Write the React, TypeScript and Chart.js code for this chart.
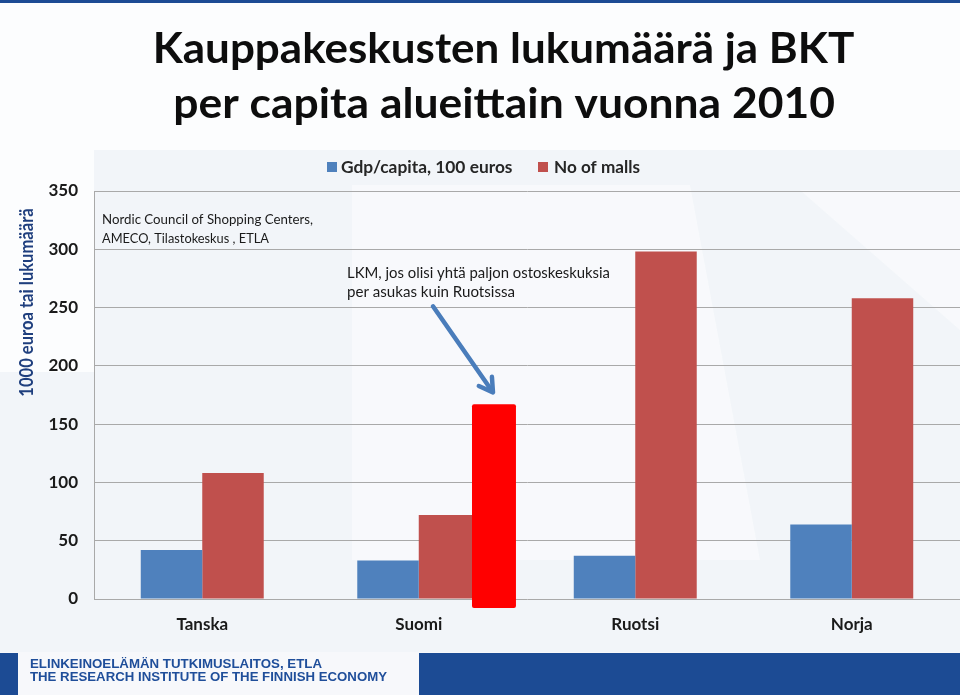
import React, { useEffect, useRef } from "react";
import { Chart, registerables } from "chart.js";

Chart.register(...registerables);

// ---- data ----
const countries = ["Tanska", "Suomi", "Ruotsi", "Norja"];
const gdpPerCapita100Euros = [42, 33, 37, 64];
const numberOfMalls = [108, 72, 298, 258];
const suomiMallsIfLikeRuotsi = 167;
const seriesLabels = ["Gdp/capita, 100 euros", "No of malls"];
const yMin = 0;
const yMax = 350;
const yStep = 50;

// ---- texts ----
const titleLines = ["Kauppakeskusten lukumäärä ja BKT", "per capita alueittain vuonna 2010"];
const yAxisTitle = "1000 euroa tai lukumäärä";
const sourceLines = ["Nordic Council of Shopping Centers,", "AMECO, Tilastokeskus , ETLA"];
const annotationLines = ["LKM, jos olisi yhtä paljon ostoskeskuksia", "per asukas kuin Ruotsissa"];
const footerLines = ["ELINKEINOELÄMÄN TUTKIMUSLAITOS, ETLA", "THE RESEARCH INSTITUTE OF THE FINNISH ECONOMY"];

// ---- styles ----
const BLUE = "#4f81bd";
const RED = "#c0504d";
const BRIGHT_RED = "#ff0000";
const NAVY = "#1c4b94";
const TEXT = "#1a1a1a";
const GRID = "#a9a9a9";

function fitText(
  ctx: CanvasRenderingContext2D,
  text: string,
  x: number,
  y: number,
  width: number,
  font: string,
  color: string
) {
  ctx.save();
  ctx.font = font;
  ctx.fillStyle = color;
  ctx.textAlign = "left";
  ctx.textBaseline = "alphabetic";
  const w = ctx.measureText(text).width || 1;
  ctx.translate(x, y);
  ctx.scale(width / w, 1);
  ctx.fillText(text, 0, 0);
  ctx.restore();
}

const backgroundPlugin = {
  id: "bgDecor",
  beforeDraw(chart: any) {
    const { ctx, width, height } = chart;
    ctx.save();
    ctx.fillStyle = "#f2f5f9";
    ctx.fillRect(0, 0, width, height);
    ctx.fillStyle = "rgba(255,255,255,0.75)";
    // top band
    ctx.fillRect(0, 0, width, 150);
    // left white area
    ctx.fillRect(0, 150, 94, 222);
    // subtle diagonal light panels
    ctx.fillStyle = "rgba(255,255,255,0.45)";
    ctx.beginPath();
    ctx.moveTo(352, 185);
    ctx.lineTo(690, 185);
    ctx.lineTo(760, 560);
    ctx.lineTo(352, 560);
    ctx.closePath();
    ctx.fill();
    ctx.beginPath();
    ctx.moveTo(800, 190);
    ctx.lineTo(960, 190);
    ctx.lineTo(960, 330);
    ctx.closePath();
    ctx.fill();
    // top navy strip
    ctx.fillStyle = NAVY;
    ctx.fillRect(0, 0, width, 3);
    // footer
    ctx.fillStyle = "#f7f8fb";
    ctx.fillRect(0, 652, width, height - 652);
    ctx.fillStyle = NAVY;
    ctx.fillRect(0, 653, 18, height - 653);
    ctx.fillRect(419, 653, width - 419, height - 653);
    ctx.restore();
  },
};

const overlayPlugin = {
  id: "overlay",
  afterDatasetsDraw(chart: any) {
    const { ctx } = chart;
    const yScale = chart.scales.y;
    const meta = chart.getDatasetMeta(1);
    const el = meta.data[1];
    const { x, width } = el.getProps(["x", "width"], true);
    const w = width * 0.715;
    const left = x + width * 0.366;
    const top = yScale.getPixelForValue(suomiMallsIfLikeRuotsi);
    const bottom = yScale.getPixelForValue(0) + 9;
    const r = 2;
    ctx.save();
    ctx.fillStyle = BRIGHT_RED;
    ctx.beginPath();
    ctx.moveTo(left + r, top);
    ctx.lineTo(left + w - r, top);
    ctx.quadraticCurveTo(left + w, top, left + w, top + r);
    ctx.lineTo(left + w, bottom - r);
    ctx.quadraticCurveTo(left + w, bottom, left + w - r, bottom);
    ctx.lineTo(left + r, bottom);
    ctx.quadraticCurveTo(left, bottom, left, bottom - r);
    ctx.lineTo(left, top + r);
    ctx.quadraticCurveTo(left, top, left + r, top);
    ctx.closePath();
    ctx.fill();

    // arrow
    const tipX = left + w / 2 - 1;
    const tipY = top - 12;
    const sx = tipX - 60;
    const sy = tipY - 86;
    ctx.strokeStyle = "#4a7dbb";
    ctx.lineWidth = 4.5;
    ctx.lineCap = "round";
    ctx.lineJoin = "round";
    ctx.beginPath();
    ctx.moveTo(sx, sy);
    ctx.lineTo(tipX - 1.5, tipY - 2);
    ctx.stroke();
    const ang = Math.atan2(sy - tipY, sx - tipX);
    const spread = (31 * Math.PI) / 180;
    const len = 15.5;
    ctx.beginPath();
    ctx.moveTo(tipX + len * Math.cos(ang - spread), tipY + len * Math.sin(ang - spread));
    ctx.lineTo(tipX, tipY);
    ctx.lineTo(tipX + len * Math.cos(ang + spread), tipY + len * Math.sin(ang + spread));
    ctx.stroke();
    ctx.restore();

    // text boxes
    const srcFont = "14px Lato";
    fitText(ctx, sourceLines[0], 102, 223.5, 211, srcFont, TEXT);
    fitText(ctx, sourceLines[1], 102, 242.5, 167, srcFont, TEXT);
    const annFont = "15px Lato";
    fitText(ctx, annotationLines[0], 347, 277.5, 263, annFont, TEXT);
    fitText(ctx, annotationLines[1], 347, 297, 168, annFont, TEXT);
  },
  afterDraw(chart: any) {
    const { ctx } = chart;
    // title
    const tFont = "bold 42px Lato";
    fitText(ctx, titleLines[0], 152.7, 62.5, 701.6, tFont, "#0d0d0d");
    fitText(ctx, titleLines[1], 173.3, 118.3, 661.7, tFont, "#0d0d0d");

    // y axis title (rotated)
    ctx.save();
    ctx.translate(32.5, 302.5);
    ctx.rotate(-Math.PI / 2);
    fitText(ctx, yAxisTitle, -94.2, 0, 188.4, "bold 18px Lato", "#1f3f7e");
    ctx.restore();

    // legend
    const legendBoxes = [327, 538];
    const legendTextX = [341, 554];
    const legendTextW = [171.5, 86];
    chart.data.datasets.forEach((ds: any, i: number) => {
      ctx.save();
      ctx.fillStyle = ds.backgroundColor;
      ctx.fillRect(legendBoxes[i], 162, 10, 10);
      ctx.restore();
      fitText(ctx, ds.label, legendTextX[i], 173, legendTextW[i], "bold 17px Lato", "#262626");
    });

    // footer texts
    const fFont = "bold 12px 'Liberation Sans', Arial, sans-serif";
    fitText(ctx, footerLines[0], 30, 667.7, 292, fFont, "#1f4e9a");
    fitText(ctx, footerLines[1], 30, 680.5, 357, fFont, "#1f4e9a");
  },
};

export default function App() {
  const ref = useRef<HTMLCanvasElement | null>(null);

  useEffect(() => {
    document.body.style.margin = "0";
    const canvas = ref.current;
    if (!canvas) return;
    const chart = new Chart(canvas, {
      type: "bar",
      data: {
        labels: countries,
        datasets: [
          {
            label: seriesLabels[0],
            data: gdpPerCapita100Euros,
            backgroundColor: BLUE,
            borderWidth: 0,
          },
          {
            label: seriesLabels[1],
            data: numberOfMalls,
            backgroundColor: RED,
            borderWidth: 0,
          },
        ],
      },
      options: {
        responsive: false,
        animation: false,
        devicePixelRatio: 1,
        layout: { padding: { top: 191, left: 0, right: 0, bottom: 0 } },
        datasets: {
          bar: { categoryPercentage: 0.568, barPercentage: 1 },
        },
        plugins: {
          legend: { display: false },
          title: { display: false },
          tooltip: { enabled: false },
        },
        scales: {
          x: {
            grid: { display: false, drawTicks: false },
            border: { display: false },
            ticks: {
              color: TEXT,
              padding: 15,
              font: { family: "Lato", size: 17, weight: "bold" },
            },
            afterFit: (s: any) => {
              s.height = 96;
            },
          },
          y: {
            min: yMin,
            max: yMax,
            grid: { color: GRID, lineWidth: 1, drawTicks: false },
            border: { display: true, color: GRID, width: 1 },
            ticks: {
              stepSize: yStep,
              color: TEXT,
              padding: 16,
              font: { family: "Lato", size: 17, weight: "bold" },
            },
            afterFit: (s: any) => {
              s.width = 94;
            },
          },
        },
      },
      plugins: [backgroundPlugin, overlayPlugin],
    } as any);
    return () => chart.destroy();
  }, []);

  return (
    <div style={{ width: 960, height: 695 }}>
      <canvas ref={ref} width={960} height={695} style={{ display: "block" }} />
    </div>
  );
}
